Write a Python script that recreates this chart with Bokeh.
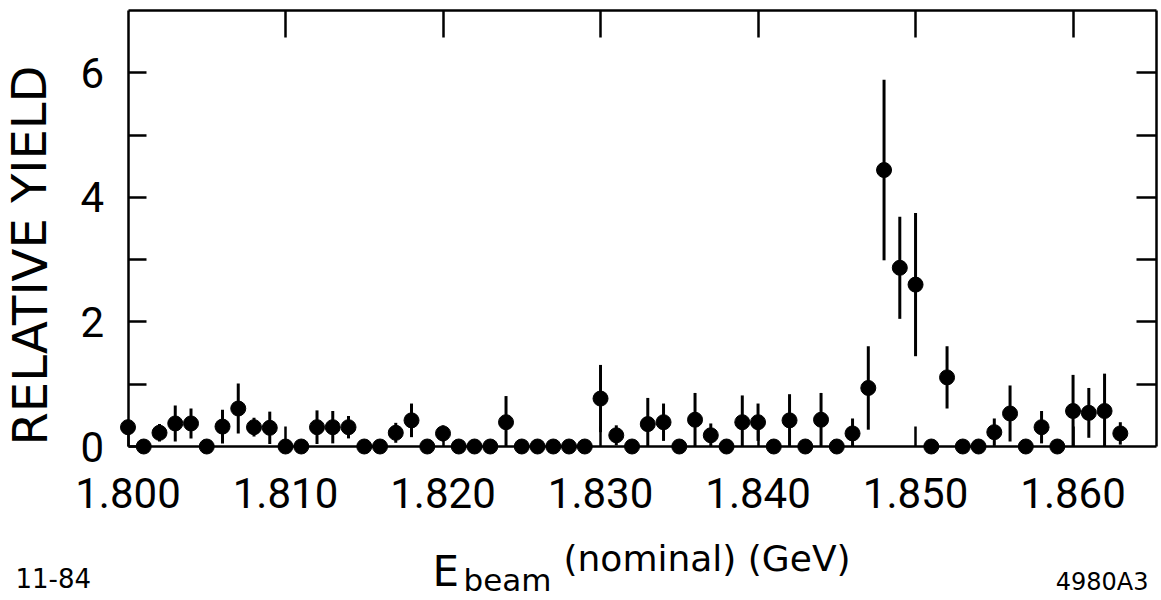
from bokeh.plotting import figure
from bokeh.models import (Range1d, LinearAxis, FixedTicker, Label, ColumnDataSource,
                          NumeralTickFormatter, CustomJSTickFormatter)
from bokeh.embed import file_html
from bokeh.resources import INLINE

# ---------------- data ----------------
beam_energy = [1.800, 1.801, 1.802, 1.803, 1.804, 1.805, 1.806, 1.807, 1.808, 1.809,
               1.810, 1.811, 1.812, 1.813, 1.814, 1.815, 1.816, 1.817, 1.818, 1.819,
               1.820, 1.821, 1.822, 1.823, 1.824, 1.825, 1.826, 1.827, 1.828, 1.829,
               1.830, 1.831, 1.832, 1.833, 1.834, 1.835, 1.836, 1.837, 1.838, 1.839,
               1.840, 1.841, 1.842, 1.843, 1.844, 1.845, 1.846, 1.847, 1.848, 1.849,
               1.850, 1.851, 1.852, 1.853, 1.854, 1.855, 1.856, 1.857, 1.858, 1.859,
               1.860, 1.861, 1.862, 1.863]
relative_yield = [0.31, 0.00, 0.22, 0.37, 0.37, 0.00, 0.32, 0.61, 0.31, 0.30,
                  0.00, 0.00, 0.31, 0.31, 0.31, 0.00, 0.00, 0.22, 0.42, 0.00,
                  0.21, 0.00, 0.00, 0.00, 0.39, 0.00, 0.00, 0.00, 0.00, 0.00,
                  0.77, 0.18, 0.00, 0.36, 0.39, 0.00, 0.43, 0.18, 0.00, 0.39,
                  0.39, 0.00, 0.42, 0.00, 0.43, 0.00, 0.21, 0.94, 4.44, 2.87,
                  2.60, 0.00, 1.11, 0.00, 0.00, 0.23, 0.53, 0.00, 0.31, 0.00,
                  0.57, 0.54, 0.57, 0.21]
yield_error = [0.12, 0.00, 0.14, 0.29, 0.24, 0.00, 0.27, 0.40, 0.15, 0.26,
               0.00, 0.00, 0.27, 0.26, 0.18, 0.00, 0.00, 0.16, 0.27, 0.00,
               0.13, 0.00, 0.00, 0.00, 0.42, 0.00, 0.00, 0.00, 0.00, 0.00,
               0.54, 0.16, 0.00, 0.42, 0.30, 0.00, 0.43, 0.19, 0.00, 0.43,
               0.30, 0.00, 0.42, 0.00, 0.43, 0.00, 0.24, 0.67, 1.45, 0.82,
               1.15, 0.00, 0.50, 0.00, 0.00, 0.22, 0.45, 0.00, 0.26, 0.00,
               0.58, 0.40, 0.60, 0.18]

x_ticks = [1.800, 1.810, 1.820, 1.830, 1.840, 1.850, 1.860]
y_ticks = [0, 2, 4, 6]
y_minor_ticks = [1, 3, 5]
right_ticks = [1, 2, 3, 4, 5, 6]

# ---------------- layout ----------------
W, H = 1161, 600
# the plotting frame fills the whole canvas; the drawn box is made of axes
PX_PER_GEV = 15751.0      # horizontal scale
PX_PER_UNIT = 62.27       # vertical scale
X_LEFT_PX = 127.5         # canvas x of E = 1.800
Y_ZERO_PX = 446.0         # canvas y of yield = 0
BOX_X_MIN, BOX_X_MAX = 1.800, 1.8653
BOX_Y_MIN, BOX_Y_MAX = 0.0, 7.0

X0 = 1.800 - X_LEFT_PX / PX_PER_GEV
X1 = X0 + W / PX_PER_GEV
Y1 = Y_ZERO_PX / PX_PER_UNIT
Y0 = Y1 - H / PX_PER_UNIT

NUM_FONT = "Roboto"
TXT_FONT = "DejaVu Sans"

src = ColumnDataSource(dict(
    x=beam_energy,
    y=relative_yield,
    lo=[max(0.0, y - e) for y, e in zip(relative_yield, yield_error)],
    hi=[y + e for y, e in zip(relative_yield, yield_error)],
))

p = figure(width=W, height=H, x_range=Range1d(X0, X1), y_range=Range1d(Y0, Y1),
           x_axis_type=None, y_axis_type=None,
           output_backend="svg", toolbar_location=None)
p.min_border = 0
p.min_border_left = 0
p.min_border_right = 0
p.min_border_top = 0
p.min_border_bottom = 0
p.outline_line_color = None
p.background_fill_color = "white"
p.border_fill_color = "white"

LW = 2.5

def style(ax):
    ax.axis_line_color = "black"
    ax.axis_line_width = LW
    ax.major_tick_line_color = "black"
    ax.major_tick_line_width = LW
    ax.minor_tick_line_color = "black"
    ax.minor_tick_line_width = LW
    ax.major_tick_out = 0
    ax.minor_tick_out = 0

blank = CustomJSTickFormatter(code="return ''")

# bottom axis on yield = 0
xb = LinearAxis(ticker=FixedTicker(ticks=x_ticks), fixed_location=BOX_Y_MIN,
                bounds=(BOX_X_MIN, BOX_X_MAX), formatter=NumeralTickFormatter(format="0.000"))
style(xb)
xb.major_tick_in = 20
xb.major_label_standoff = 31
xb.major_label_text_font = NUM_FONT
xb.major_label_text_font_size = "42px"
xb.major_label_text_color = "black"
p.add_layout(xb, "below")

# left axis on E = 1.800
yl = LinearAxis(ticker=FixedTicker(ticks=y_ticks, minor_ticks=y_minor_ticks),
                fixed_location=BOX_X_MIN, bounds=(BOX_Y_MIN, BOX_Y_MAX))
style(yl)
yl.major_tick_in = 18
yl.minor_tick_in = 18
yl.major_label_standoff = 24
yl.major_label_text_font = NUM_FONT
yl.major_label_text_font_size = "42px"
yl.major_label_text_color = "black"
p.add_layout(yl, "left")

# top edge of the box
xt = LinearAxis(ticker=FixedTicker(ticks=x_ticks[1:]), fixed_location=BOX_Y_MAX,
                bounds=(BOX_X_MIN, BOX_X_MAX), formatter=blank)
style(xt)
xt.major_tick_in = 27
xt.major_label_standoff = 0
xt.major_label_text_font_size = "1px"
p.add_layout(xt, "above")

# right edge of the box
yr = LinearAxis(ticker=FixedTicker(ticks=right_ticks), fixed_location=BOX_X_MAX,
                bounds=(BOX_Y_MIN, BOX_Y_MAX), formatter=blank)
style(yr)
yr.major_tick_in = 20
yr.major_label_standoff = 0
yr.major_label_text_font_size = "1px"
p.add_layout(yr, "right")

# data
p.segment(x0="x", y0="lo", x1="x", y1="hi", source=src, line_color="black", line_width=3)
p.scatter("x", "y", source=src, marker="circle", size=15, fill_color="black", line_color="black")

# texts, placed in canvas pixels (frame == canvas, screen y counts up from the bottom)
def lab(text, cx, cy, size, font=TXT_FONT, align="left", angle=0.0):
    p.add_layout(Label(x=cx, y=H - cy, x_units="screen", y_units="screen", text=text,
                       text_font=font, text_font_size=size, text_color="black",
                       text_align=align, text_baseline="middle", angle=angle))

lab("RELATIVE YIELD", 29, 255, "48px", align="center", angle=1.5708)
lab("E", 432, 571, "42px")
lab("beam", 463, 579, "31px")
lab("(nominal) (GeV)", 563, 558, "36px")
lab("11-84", 15, 577, "26px")
lab("4980A3", 1148, 581, "24px", align="right")

open("out.html", "w").write(file_html(p, INLINE))
